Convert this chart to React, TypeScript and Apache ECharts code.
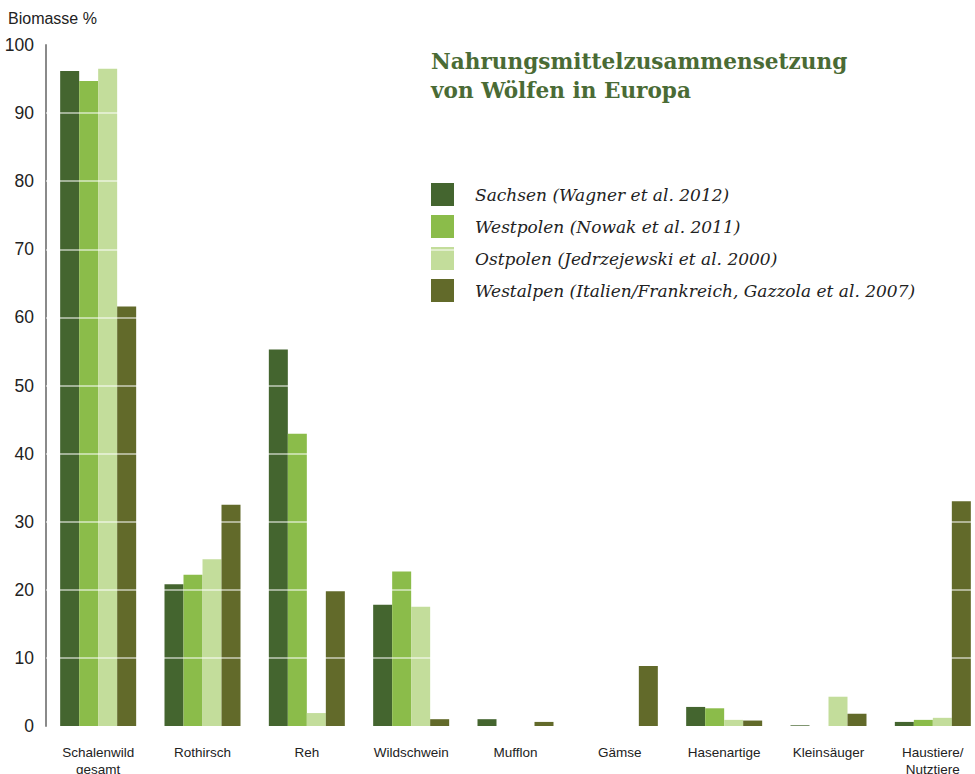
import React, { useEffect, useRef } from "react";
import * as echarts from "echarts";

const categories = [
  "Schalenwild\ngesamt",
  "Rothirsch",
  "Reh",
  "Wildschwein",
  "Mufflon",
  "Gämse",
  "Hasenartige",
  "Kleinsäuger",
  "Haustiere/\nNutztiere",
];

const seriesNames = [
  "Sachsen (Wagner et al. 2012)",
  "Westpolen (Nowak et al. 2011)",
  "Ostpolen (Jedrzejewski et al. 2000)",
  "Westalpen (Italien/Frankreich, Gazzola et al. 2007)",
];

const sachsen = [96.2, 20.8, 55.3, 17.8, 1.0, 0, 2.8, 0.1, 0.6];
const westpolen = [94.7, 22.2, 42.9, 22.7, 0, 0, 2.6, 0, 0.9];
const ostpolen = [96.5, 24.5, 1.9, 17.5, 0, 0, 0.9, 4.3, 1.2];
const westalpen = [61.6, 32.5, 19.8, 1.0, 0.6, 8.8, 0.8, 1.8, 33.0];

const yTicks = [10, 20, 30, 40, 50, 60, 70, 80, 90];

const colors = ["#44652f", "#8bbc4a", "#c3dd9b", "#626a2a"];

export default function App() {
  const ref = useRef<HTMLDivElement>(null);

  useEffect(() => {
    document.body.style.margin = "0";
    const chart = echarts.init(ref.current!, null, { renderer: "svg" });
    const values = [sachsen, westpolen, ostpolen, westalpen];
    const series: any[] = values.map((d, i) => ({
      name: seriesNames[i],
      type: "bar",
      data: d,
      barWidth: 19,
      barGap: "0%",
      itemStyle: { color: colors[i] },
      ...(i === 3
        ? {
            markLine: {
              silent: true,
              symbol: "none",
              z: 10,
              label: { show: false },
              lineStyle: { color: "rgba(255,255,255,0.5)", width: 2, type: "solid" },
              data: yTicks.map((t) => ({ yAxis: t })),
            },
          }
        : {}),
    }));

    chart.setOption({
      animation: false,
      textStyle: { fontFamily: "Liberation Sans, Arial, sans-serif" },
      title: {
        text: "Nahrungsmittelzusammensetzung\nvon Wölfen in Europa",
        left: 431,
        top: 47,
        padding: 0,
        textStyle: {
          fontFamily: "DejaVu Serif",
          fontWeight: "bold",
          fontSize: 21.6,
          lineHeight: 29,
          color: "#4a6b35",
        },
      },
      legend: {
        orient: "vertical",
        left: 431,
        top: 183,
        padding: 0,
        itemWidth: 23,
        itemHeight: 23,
        itemGap: 9,
        icon: "rect",
        data: seriesNames,
        textStyle: {
          fontFamily: "DejaVu Serif",
          fontStyle: "italic",
          fontSize: 17,
          color: "#222",
          padding: [0, 0, 0, 16],
        },
      },
      graphic: [
        {
          type: "text",
          left: 8,
          top: 10,
          style: {
            text: "Biomasse %",
            fontFamily: "Liberation Sans, Arial, sans-serif",
            fontSize: 16,
            fill: "#222",
          },
        },
      ],
      grid: { left: 46, top: 45, bottom: 48, right: -10, outerBoundsMode: "none" },
      xAxis: {
        type: "category",
        data: categories,
        axisLine: { show: false },
        axisTick: { show: false },
        axisLabel: {
          margin: 18,
          fontSize: 13.5,
          lineHeight: 17,
          color: "#222",
          interval: 0,
        },
      },
      yAxis: {
        type: "value",
        min: 0,
        max: 100,
        interval: 10,
        axisLine: { show: true, lineStyle: { color: "#8a8a8a", width: 2 } },
        axisTick: { show: false },
        splitLine: { show: false },
        axisLabel: { fontSize: 17.5, color: "#222", margin: 12 },
      },
      series,
    });
    return () => chart.dispose();
  }, []);

  return <div ref={ref} style={{ width: 975, height: 774 }} />;
}
